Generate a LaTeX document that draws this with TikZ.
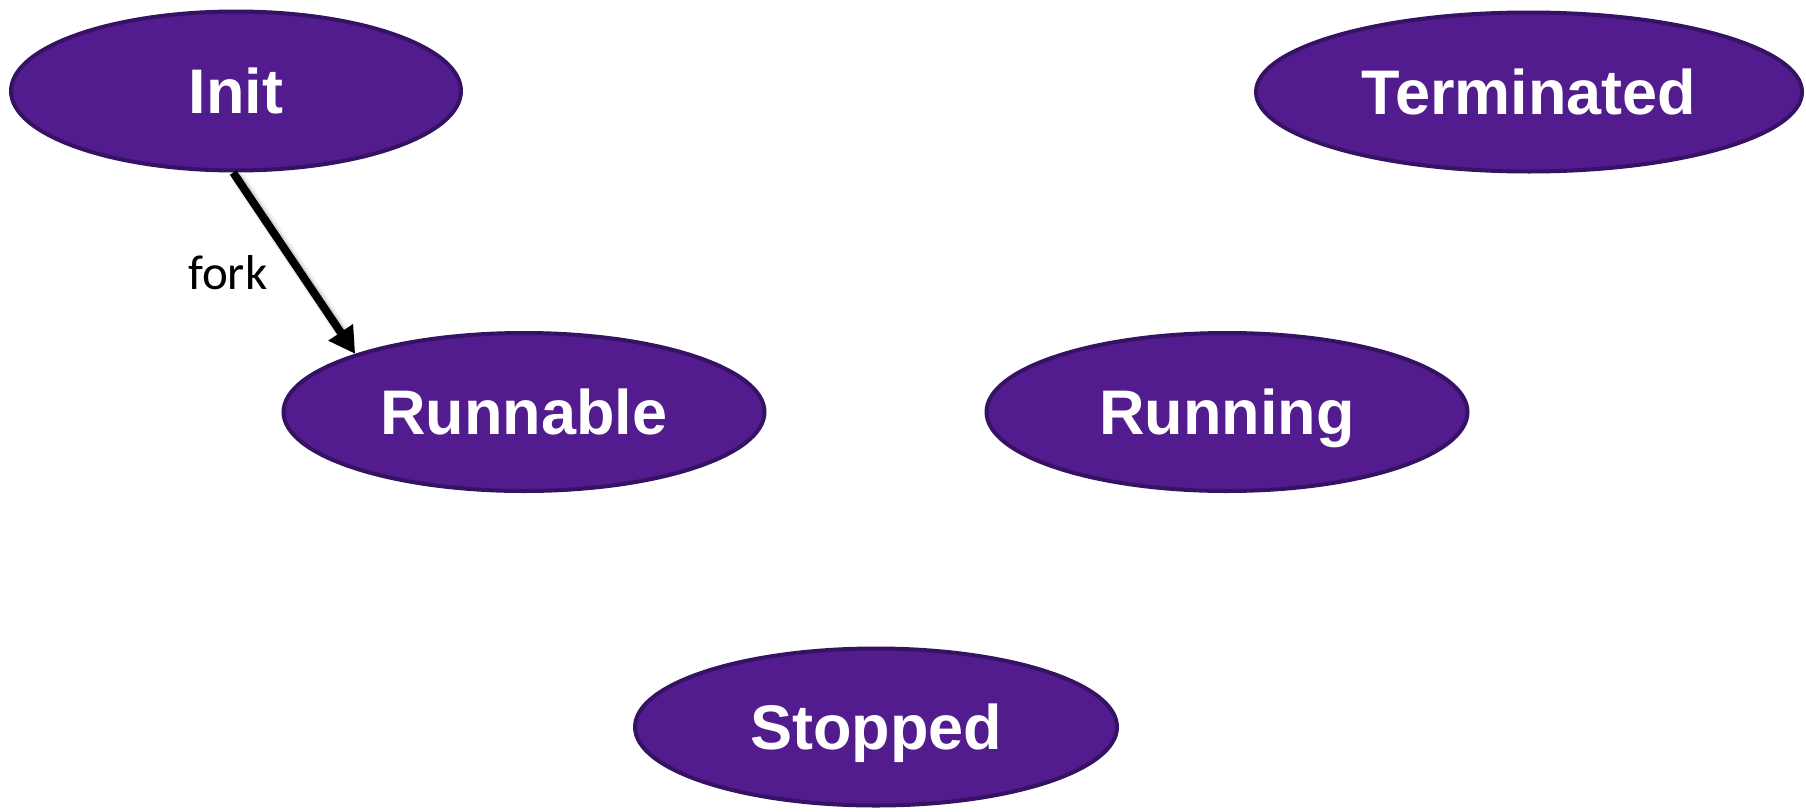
\documentclass[tikz,border=0pt]{standalone}
\usepackage{fontspec}
\setmainfont{Liberation Sans}
\newfontfamily\labelfont{Carlito}
\usetikzlibrary{shapes.geometric,arrows.meta}
\definecolor{stfill}{HTML}{521C8E}
\definecolor{stline}{HTML}{361265}
\tikzset{
  state/.style={ellipse, draw=stline, line width=4pt, fill=stfill,
    text=white, inner sep=0pt, text height=45pt, text depth=0pt,
    font=\fontsize{63}{63}\selectfont\bfseries},
  trans/.style={line width=8pt, -{Triangle[length=26pt,width=28pt]}},
  transshadow/.style={line width=10pt, black, opacity=0.12, shorten >=18pt},
  translabel/.style={inner sep=0pt, font=\labelfont\fontsize{49}{49}\selectfont}
}
\begin{document}
\begin{tikzpicture}[x=1pt, y=-1pt]
  \useasboundingbox (0,0) rectangle (1806,811);
  % states
  \node[state, minimum width=450pt, minimum height=159pt] (init) at (236,91) {Init};
  \node[state, minimum width=546pt, minimum height=159pt] (term) at (1529,92) {Terminated};
  \node[state, minimum width=481pt, minimum height=158pt] (runnable) at (524,412) {Runnable};
  \node[state, minimum width=481pt, minimum height=158pt] (running) at (1227,412) {Running};
  \node[state, minimum width=482pt, minimum height=157pt] (stopped) at (876,727) {Stopped};
  % fork transition with soft shadow
  \begin{scope}[transform canvas={shift={(3pt,-3pt)}}]
    \draw[transshadow] (init.268) -- (runnable.161);
  \end{scope}
  \begin{scope}[transform canvas={shift={(5pt,-5pt)}}]
    \draw[transshadow, opacity=0.06, line width=14pt] (init.268) -- (runnable.161);
  \end{scope}
  \draw[trans] (init.268) -- node[translabel, pos=0.55, left=29pt] (fork) {fork} (runnable.161);
\end{tikzpicture}
\end{document}
